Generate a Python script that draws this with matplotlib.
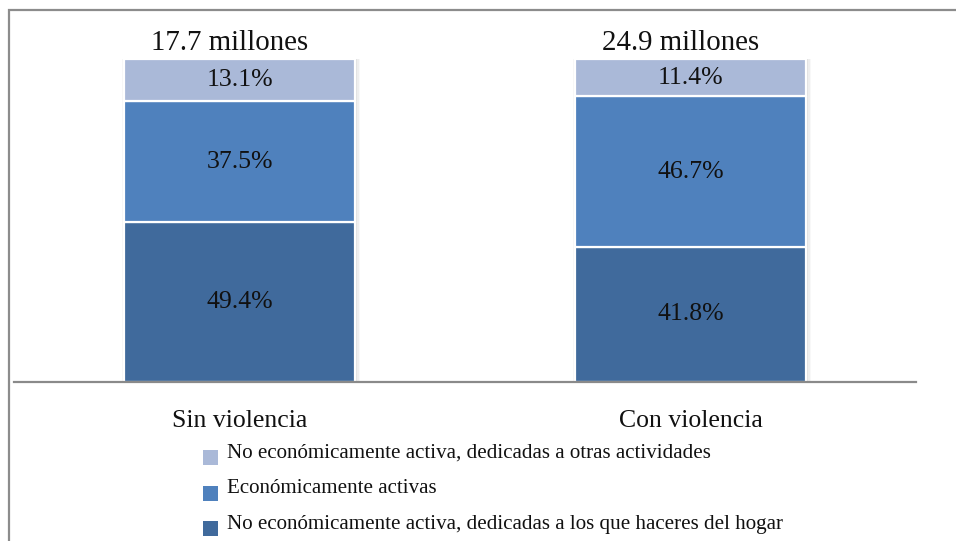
import matplotlib
matplotlib.use("Agg")
import matplotlib.pyplot as plt
from matplotlib.patches import Rectangle
import matplotlib.patheffects as pe
import numpy as np

plt.rcParams['font.family'] = ['Liberation Serif', 'DejaVu Serif']

# Data
categories = ["Sin violencia", "Con violencia"]
totals = ["17.7 millones", "24.9 millones"]
series_names = [
    "No económicamente activa, dedicadas a los que haceres del hogar",
    "Económicamente activas",
    "No económicamente activa, dedicadas a otras actividades",
]
hogar = [49.4, 41.8]
activas = [37.5, 46.7]
otras = [13.1, 11.4]
colors = ["#406A9C", "#4F81BD", "#AAB9D8"]

W, H = 956, 541
fig = plt.figure(figsize=(W / 100, H / 100), dpi=100)

def fx(px):
    return px / W

def fy(py):
    return 1 - py / H

# outer frame (left and top edges visible)
fig.add_artist(Rectangle((fx(9), fy(600)), fx(1100), fy(10.5) - fy(600),
                         transform=fig.transFigure, fill=False,
                         edgecolor="#8C8C8C", lw=1.6))

ax = fig.add_axes([fx(14), fy(382), fx(916) - fx(14), fy(59) - fy(382)])
x = np.arange(len(categories))
width = 0.514

series = [hogar, activas, otras]
bottom = np.zeros(len(categories))
# soft drop shadow built from a few faint layers
shadow = [pe.SimplePatchShadow(offset=(d, 0), shadow_rgbFace="#808080", alpha=a)
          for d, a in [(3.5, 0.05), (2.5, 0.08), (1.5, 0.12), (-1.0, 0.06)]] + [pe.Normal()]
for vals, col in zip(series, colors):
    vals = np.array(vals)
    bars = ax.bar(x, vals, width, bottom=bottom, color=col,
                  edgecolor="white", linewidth=1.6, zorder=2)
    for b in bars:
        b.set_path_effects(shadow)
    for xi, v, b0 in zip(x, vals, bottom):
        ax.text(xi, b0 + v / 2, f"{v:.1f}%", ha="center", va="center",
                fontsize=18.5, color="#111111", zorder=3)
    bottom = bottom + vals

for xi, t, tot in zip(x, totals, bottom):
    ax.annotate(t, (xi, tot), xytext=(-7, 6.5), textcoords="offset points",
                ha="center", va="baseline", fontsize=20.8, color="#111111",
                annotation_clip=False)

ax.set_xlim(-0.5, 1.5)
ax.set_ylim(0, 100)
ax.set_xticks(x, categories)
ax.tick_params(axis="x", length=0, pad=20, labelsize=18.5, labelcolor="#111111")
ax.set_yticks([])
for s in ["left", "right", "top"]:
    ax.spines[s].set_visible(False)
ax.spines["bottom"].set_color("#8A8A8A")
ax.spines["bottom"].set_linewidth(1.6)
ax.spines["bottom"].set_zorder(4)
ax.patch.set_visible(False)

# legend, drawn top to bottom in stacking order
legend_rows = [(series_names[2], colors[2], 457.5),
               (series_names[1], colors[1], 493.0),
               (series_names[0], colors[0], 528.5)]
for name, col, yc in legend_rows:
    fig.add_artist(Rectangle((fx(203), fy(yc + 7.5)), fx(15), fy(yc - 7.5) - fy(yc + 7.5),
                             transform=fig.transFigure, facecolor=col,
                             edgecolor="none"))
    fig.text(fx(227), fy(yc), name, ha="left", va="baseline",
             fontsize=15.1, color="#111111")

fig.savefig("out.png", dpi=100)
